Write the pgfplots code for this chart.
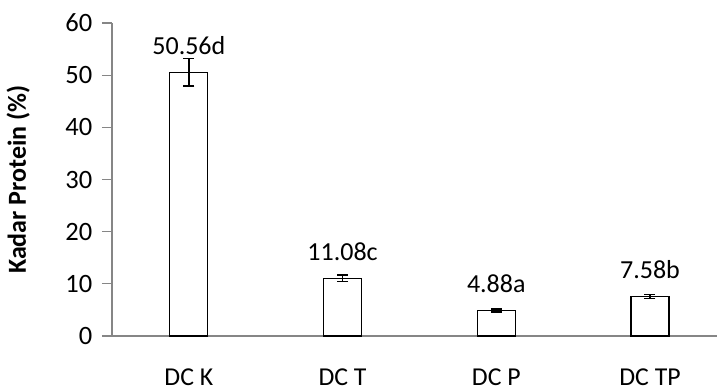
\documentclass[border=0pt]{standalone}
\usepackage{fontspec}
\setmainfont{Carlito}
\usepackage{pgfplots}
\pgfplotsset{compat=1.18}
\definecolor{axgray}{HTML}{868686}
\newcommand\tk{\fontsize{25bp}{28bp}\selectfont}
\newcommand\xk{\fontsize{23bp}{26bp}\selectfont}
\begin{document}
\begin{tikzpicture}
\useasboundingbox (0,0) rectangle (717bp,391bp);
\begin{axis}[
  at={(112bp,55bp)}, anchor=south west,
  scale only axis, width=605bp, height=313bp,
  xmin=-0.5, xmax=3.436, ymin=0, ymax=60,
  axis x line=bottom, axis y line=left,
  axis line style={-, draw=axgray, line width=1.1bp},
  xtick={0,1,2,3},
  xticklabels={DC K, DC T, DC P, DC TP},
  x tick style={draw=none},
  ytick={0,10,20,30,40,50,60},
  yticklabels={0,10,20,30,40,50,60},
  y tick style={draw=axgray, line width=1.1bp},
  tick align=outside, major tick length=10bp,
  yticklabel style={font=\tk, xshift=-6bp, scale=1.06},
  xticklabel style={font=\xk, yshift=-19bp, scale=1.12},
  ylabel={\bfseries Kadar Protein (\%)},
  ylabel style={font=\fontsize{26bp}{30bp}\selectfont, at={(axis description cs:-0.155,0.5)}, anchor=center, rotate=0},
  clip=false,
]
\addplot[ybar, bar width=38bp, bar shift=0pt, draw=black, fill=white, line width=1.2bp,
  error bars/.cd, y dir=both, y explicit,
  error bar style={line width=1.4bp, black}, error mark options={rotate=90, mark size=5.5bp, line width=1.4bp}]
  coordinates {(0,50.56) +- (0,2.6) (1,11.08) +- (0,0.6) (2,4.88) +- (0,0.3) (3,7.58) +- (0,0.4)};
\addplot[only marks, mark=none,
  nodes near coords, point meta=explicit symbolic,
  every node near coord/.style={font=\fontsize{26bp}{30bp}\selectfont, anchor=south, yshift=14bp}]
  coordinates {(0,50.56) [50.56d] (1,11.08) [11.08c] (2,4.88) [4.88a] (3,7.58) [7.58b]};
\end{axis}
\end{tikzpicture}
\end{document}
